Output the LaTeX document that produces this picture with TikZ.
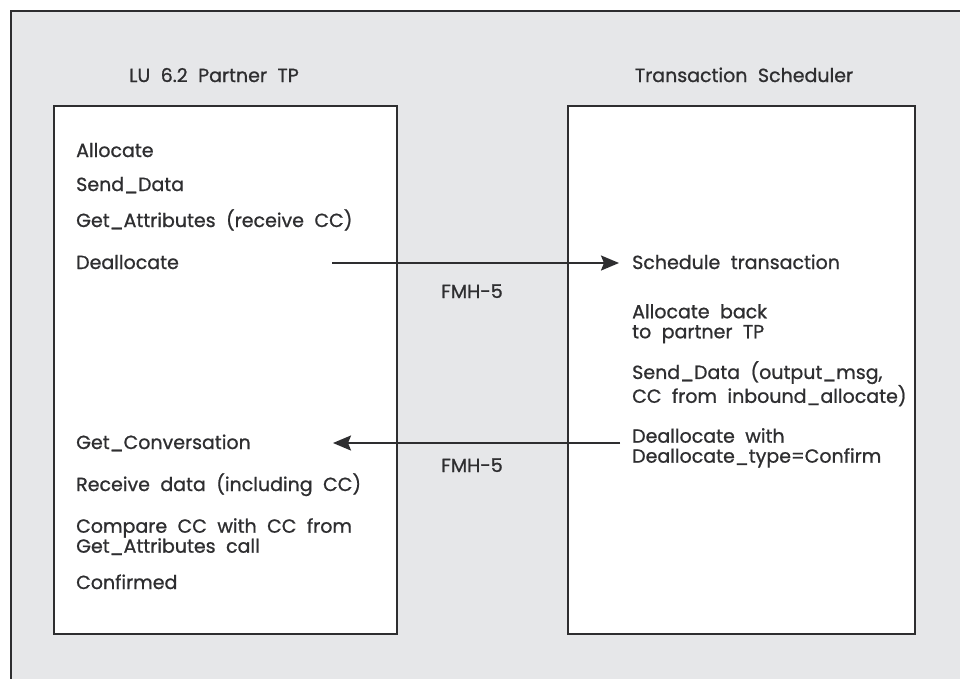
\documentclass[tikz,border=0pt]{standalone}
\usepackage{fontspec}
\setmainfont{Poppins}
\newfontface\dgface{Poppins}[FakeBold=0.9]
\usetikzlibrary{arrows.meta}
\definecolor{bggray}{HTML}{E6E7E9}
\definecolor{ink}{HTML}{2E2E30}
\newcommand\dgfont{\dgface\fontsize{19}{21}\selectfont\spaceskip=0.55em plus 0.1em\relax}
\newcommand\dgfonttwo{\dgface\fontsize{19}{20}\selectfont\spaceskip=0.55em plus 0.1em\relax}
\begin{document}
\begin{tikzpicture}[x=1pt,y=-1pt,
  every node/.style={font=\dgfont, text=ink, inner sep=0pt},
  lbl/.style={anchor=base west},
  twolbl/.style={anchor=north west, align=left, font=\dgfonttwo},
  panel/.style={draw=ink, line width=2.4pt, fill=white},
  flow/.style={draw=ink, line width=2pt, -{Stealth[length=18pt,width=15pt,inset=3pt]}}]
\useasboundingbox (0,0) rectangle (960,678);
\begin{scope}
\clip (0,0) rectangle (960,678);
\draw[draw=ink, line width=2.6pt, fill=bggray] (11,11) rectangle (990,710);
\end{scope}
\draw[panel] (54,106) rectangle (397,634);
\draw[panel] (568,106) rectangle (915,634);
\node[anchor=base] (ltitle) at (214,82) {LU 6.2 Partner TP};
\node[anchor=base] (rtitle) at (744,82) {Transaction Scheduler};
% left upper
\node[lbl] (l1) at (76,157) {Allocate};
\node[lbl] (l2) at (76,191) {Send\_Data};
\node[lbl] (l3) at (76,227) {Get\_Attributes (receive CC)};
\node[lbl] (l4) at (76,269) {Deallocate};
% left lower
\node[lbl] (l5) at (76,449) {Get\_Conversation};
\node[lbl] (l6) at (76,491) {Receive data (including CC)};
\node[twolbl] (l7) at (76,518) {Compare CC with CC from\\Get\_Attributes call};
\node[lbl] (l8) at (76,589) {Confirmed};
% right
\node[lbl] (r1) at (632,269) {Schedule transaction};
\node[twolbl] (r2) at (632,304) {Allocate back\\to partner TP};
\node[twolbl] (r3) at (632,361) {Send\_Data (output\_msg,\\CC from inbound\_allocate)};
\node[twolbl] (r4) at (632,428) {Deallocate with\\Deallocate\_type=Confirm};
% FMH labels
\node[anchor=base] (f1) at (472,298) {FMH-5};
\node[anchor=base] (f2) at (472,472) {FMH-5};
% arrows
\coordinate (a1s) at (332,263);
\coordinate (a1e) at (619,263);
\coordinate (a2s) at (620,443);
\coordinate (a2e) at (333,443);
\draw[flow] (a1s) -- (a1e);
\draw[flow] (a2s) -- (a2e);
\end{tikzpicture}
\end{document}
